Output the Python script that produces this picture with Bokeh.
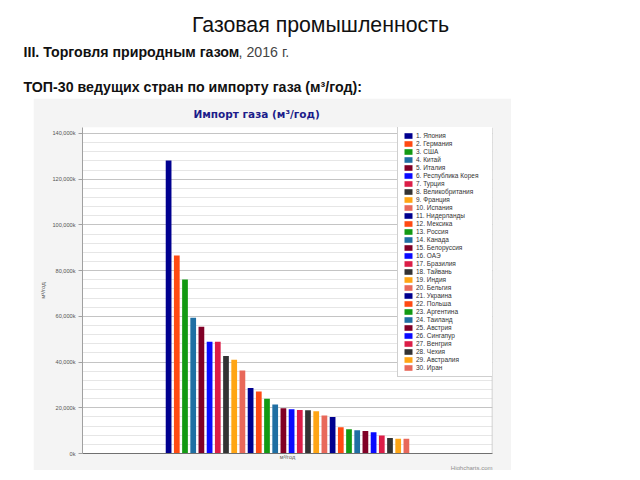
from bokeh.plotting import figure
from bokeh.models import Range1d, FixedTicker, Label, Legend, LegendItem, ColumnDataSource, Spacer, Title, Span
from bokeh.layouts import column, row
from bokeh.embed import file_html
from bokeh.resources import INLINE

# ---- texts ----
slide_title = "Газовая промышленность"
section_bold = "III. Торговля природным газом"
section_rest = ", 2016 г."
list_title = "ТОП-30 ведущих стран по импорту газа (м³/год):"
chart_title = "Импорт газа (м³/год)"
axis_title = "м³/год"
category_label = "м³/год"
credit = "Highcharts.com"

# ---- data ----
countries = ["Япония", "Германия", "США", "Китай", "Италия", "Республика Корея",
             "Турция", "Великобритания", "Франция", "Испания", "Нидерланды", "Мексика",
             "Россия", "Канада", "Белоруссия", "ОАЭ", "Бразилия", "Тайвань", "Индия",
             "Бельгия", "Украина", "Польша", "Аргентина", "Таиланд", "Австрия",
             "Сингапур", "Венгрия", "Чехия", "Австралия", "Иран"]
# imports, thousands of m3 (axis shows "k")
values = [128200, 86600, 76100, 59400, 55400, 48900, 48900, 42600, 41000, 36300,
          28700, 27100, 23900, 21400, 19800, 19400, 19000, 18900, 18500, 16600,
          16000, 11500, 10600, 10200, 9800, 9300, 7900, 6800, 6400, 6400]
palette10 = ["#00008f", "#ff4a12", "#139a13", "#1f6fa3", "#800026",
             "#0a0aff", "#dc1e48", "#333333", "#ffa514", "#e8685a"]
y_tick_values = [0, 20000, 40000, 60000, 80000, 100000, 120000, 140000]
y_tick_labels = ["0k", "20,000k", "40,000k", "60,000k", "80,000k", "100,000k", "120,000k", "140,000k"]
y_top = 142600  # small headroom above the last tick, where the legend starts

# ---- slide header ----
head = figure(width=632, height=98, x_range=Range1d(0, 632), y_range=Range1d(98, 0),
              x_axis_type=None, y_axis_type=None, output_backend="svg",
              toolbar_location=None, min_border=0)
head.outline_line_color = None
head.grid.visible = False
head.add_layout(Label(x=320, y=24, text=slide_title, text_align="center", text_baseline="middle",
                      text_font="Liberation Sans", text_font_size="21.3px", text_color="#111111"))
head.add_layout(Label(x=23, y=51, text=section_bold, text_align="left", text_baseline="middle",
                      text_font="Liberation Sans", text_font_size="14.2px", text_font_style="bold",
                      text_color="#111111"))
head.add_layout(Label(x=238, y=51, text=section_rest, text_align="left", text_baseline="middle",
                      text_font="Liberation Sans", text_font_size="14.2px", text_color="#444444"))
head.add_layout(Label(x=23, y=86, text=list_title, text_align="left", text_baseline="middle",
                      text_font="Liberation Sans", text_font_size="14.2px", text_font_style="bold",
                      text_color="#111111"))

# ---- chart ----
n = len(values)
group_padding = 0.2
span = n / (1 - 2 * group_padding)
pad = (span - n) / 2
x_end = n - 0.5 + pad
xs = list(range(n))
colors = [palette10[i % len(palette10)] for i in range(n)]
src = ColumnDataSource(dict(x=xs, top=values, color=colors, name=countries))

p = figure(width=478, height=372,
           x_range=Range1d(-0.5 - pad, x_end), y_range=Range1d(0, y_top),
           output_backend="svg", toolbar_location=None,
           min_border_left=49, min_border_right=19, min_border_top=29, min_border_bottom=16,
           background_fill_color="white", border_fill_color="#f4f4f4")
p.outline_line_color = None
r = p.vbar(x="x", top="top", bottom=0, width=0.7, fill_color="color", line_color=None, source=src)
p.add_layout(Span(location=x_end, dimension="height", line_color="#c0c0c0", line_width=1.5))

p.title = Title(text=chart_title, align="left", offset=111, standoff=15,
                text_font="DejaVu Sans", text_font_size="10.5px", text_font_style="bold",
                text_color="#1c1c8a")

yt = FixedTicker(ticks=y_tick_values, minor_ticks=list(range(0, 140001, 4000)))
p.yaxis.ticker = yt
p.yaxis.major_label_overrides = {v: l for v, l in zip(y_tick_values, y_tick_labels)}
p.yaxis.major_label_text_font = "Liberation Sans"
p.yaxis.major_label_text_font_size = "5.6px"
p.yaxis.major_label_text_color = "#555555"
p.yaxis.major_tick_out = 4
p.yaxis.major_tick_in = 0
p.yaxis.minor_tick_out = 0
p.yaxis.minor_tick_in = 0
p.yaxis.major_label_standoff = 3
p.yaxis.axis_line_color = "#a0a0a0"
p.yaxis.major_tick_line_color = "#a0a0a0"
p.yaxis.axis_label = axis_title
p.yaxis.axis_label_text_font = "Liberation Sans"
p.yaxis.axis_label_text_font_size = "6px"
p.yaxis.axis_label_text_font_style = "normal"
p.yaxis.axis_label_text_color = "#555555"
p.yaxis.axis_label_standoff = 3

center = (n - 1) / 2
p.xaxis.ticker = FixedTicker(ticks=[center])
p.xaxis.major_label_overrides = {center: category_label}
p.xaxis.major_label_text_font = "Liberation Sans"
p.xaxis.major_label_text_font_size = "5.6px"
p.xaxis.major_label_text_color = "#555555"
p.xaxis.major_tick_out = 0
p.xaxis.major_tick_in = 0
p.xaxis.minor_tick_out = 0
p.xaxis.minor_tick_in = 0
p.xaxis.major_label_standoff = 0
p.xaxis.axis_line_color = "#707070"

p.add_layout(Title(text=credit, align="right", standoff=0, text_font="Liberation Sans",
                   text_font_size="6px", text_font_style="normal", text_color="#909090"), "below")

p.xgrid.visible = False
p.ygrid.ticker = yt
p.ygrid.grid_line_color = "#c4c4c4"
p.ygrid.minor_grid_line_color = "#e6e6e6"

items = [LegendItem(label=f"{i + 1}. {c}", renderers=[r], index=i) for i, c in enumerate(countries)]
legend = Legend(items=items, location=(315, 76), orientation="vertical",
                glyph_width=10, glyph_height=7, label_height=7, label_width=71,
                label_standoff=3, spacing=1, padding=5, margin=0,
                label_text_font="Liberation Sans", label_text_font_size="6.5px",
                label_text_color="#333333",
                border_line_color="#a0a0a0", border_line_width=1,
                background_fill_color="white", background_fill_alpha=1)
p.add_layout(legend)

layout = column(head, row(Spacer(width=33, height=372), p))

open("out.html", "w").write(file_html(layout, INLINE))
